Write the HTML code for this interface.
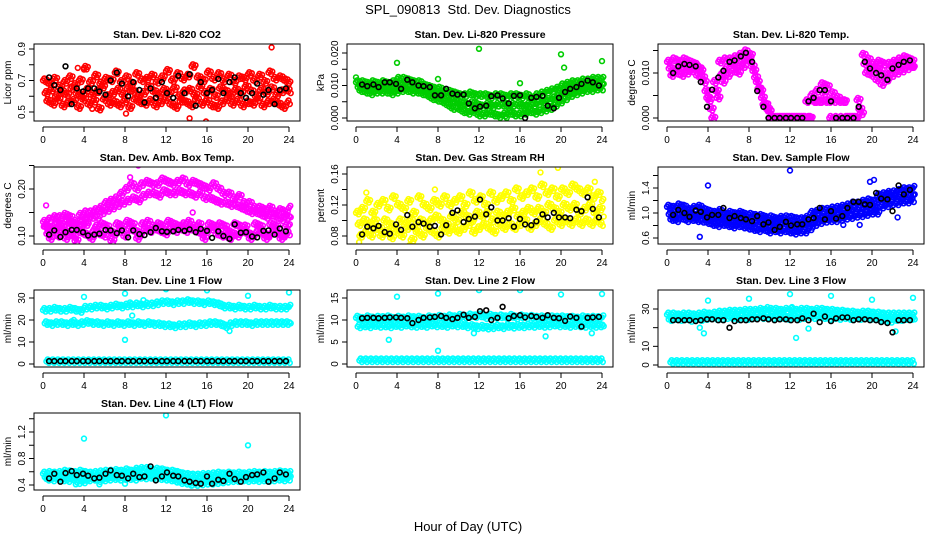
<!DOCTYPE html>
<html><head><meta charset="utf-8"><title>SPL_090813 Std. Dev. Diagnostics</title>
<style>
html,body{margin:0;padding:0;background:#fff;}
svg{display:block;font-family:"Liberation Sans",Arial,sans-serif;}
</style></head>
<body>
<svg id="chart" width="936" height="540" viewBox="0 0 936 540" xmlns="http://www.w3.org/2000/svg">
<rect width="936" height="540" fill="#fff"/>
<text x="468" y="14" text-anchor="middle" font-size="13">SPL_090813&#160; Std. Dev. Diagnostics</text>
<text x="468" y="531" text-anchor="middle" font-size="13">Hour of Day (UTC)</text>
</svg>
<script>
// shared x data
const gridHours = [0,0.5,1,1.5,2,2.5,3,3.5,4,4.5,5,5.5,6,6.5,7,7.5,8,8.5,9,9.5,10,10.5,11,11.5,12,12.5,13,13.5,14,14.5,15,15.5,16,16.5,17,17.5,18,18.5,19,19.5,20,20.5,21,21.5,22,22.5,23,23.5,24];
const blackHours = [0.6,1.1,1.7,2.2,2.8,3.3,3.9,4.4,5.0,5.5,6.1,6.6,7.2,7.7,8.3,8.8,9.4,9.9,10.5,11.0,11.6,12.1,12.7,13.2,13.8,14.3,14.9,15.4,16.0,16.5,17.1,17.6,18.2,18.7,19.3,19.8,20.4,20.9,21.5,22.0,22.6,23.1,23.7];
const xTicks = [0,4,8,12,16,20,24];

// P1 CO2
const co2A = [0.70,0.68,0.71,0.66,0.69,0.72,0.67,0.70,0.78,0.69,0.73,0.68,0.71,0.70,0.75,0.69,0.72,0.68,0.74,0.70,0.71,0.73,0.69,0.72,0.76,0.70,0.74,0.71,0.73,0.79,0.72,0.70,0.75,0.71,0.74,0.70,0.73,0.69,0.72,0.71,0.74,0.70,0.73,0.69,0.75,0.71,0.72,0.70,0.68];
const co2B = [0.62,0.64,0.60,0.63,0.61,0.65,0.62,0.60,0.64,0.61,0.63,0.66,0.60,0.62,0.64,0.61,0.65,0.63,0.60,0.62,0.66,0.63,0.61,0.64,0.62,0.65,0.60,0.63,0.64,0.61,0.66,0.62,0.64,0.60,0.65,0.63,0.61,0.64,0.62,0.66,0.63,0.60,0.64,0.62,0.65,0.61,0.63,0.64,0.62];
const co2C = [0.57,0.55,0.58,0.54,0.56,0.57,0.53,0.58,0.55,0.57,0.52,0.58,0.55,0.56,0.54,0.57,0.53,0.58,0.56,0.55,0.57,0.54,0.56,0.58,0.55,0.53,0.57,0.56,0.54,0.58,0.55,0.57,0.54,0.53,0.56,0.58,0.55,0.57,0.54,0.56,0.55,0.58,0.54,0.56,0.57,0.55,0.53,0.56,0.57];
const co2OutH = [22.3,8.1,14.3,15.9,4.8,3.4,4.0];
const co2OutV = [0.91,0.49,0.46,0.44,0.52,0.78,0.77];
const co2Black = [0.72,0.67,0.64,0.79,0.55,0.65,0.63,0.65,0.65,0.63,0.61,0.70,0.75,0.68,0.60,0.69,0.64,0.56,0.65,0.59,0.69,0.62,0.59,0.73,0.62,0.74,0.54,0.69,0.62,0.64,0.71,0.62,0.69,0.72,0.62,0.59,0.62,0.68,0.61,0.64,0.55,0.64,0.65];

// P2 Pressure
const presA = [0.011,0.011,0.0105,0.011,0.0105,0.011,0.0105,0.011,0.012,0.012,0.0115,0.011,0.011,0.010,0.0095,0.009,0.009,0.008,0.008,0.0075,0.007,0.007,0.0075,0.007,0.007,0.007,0.0065,0.007,0.007,0.0065,0.007,0.007,0.0065,0.007,0.006,0.007,0.0075,0.008,0.0085,0.009,0.010,0.0105,0.011,0.011,0.0115,0.0115,0.012,0.012,0.012];
const presB = [0.0095,0.0095,0.009,0.0095,0.009,0.0095,0.009,0.0095,0.010,0.0095,0.0095,0.009,0.009,0.0085,0.008,0.0075,0.007,0.006,0.0055,0.005,0.0045,0.004,0.0045,0.004,0.0035,0.004,0.0035,0.004,0.004,0.0035,0.004,0.004,0.0035,0.004,0.004,0.0045,0.005,0.0055,0.006,0.007,0.008,0.0085,0.009,0.0095,0.0095,0.010,0.010,0.010,0.0105];
const presC = [0.0085,0.008,0.0075,0.008,0.008,0.008,0.0075,0.008,0.0085,0.0085,0.008,0.008,0.0075,0.007,0.006,0.0055,0.005,0.004,0.003,0.003,0.002,0.0015,0.002,0.001,0.001,0.0015,0.001,0.0005,0.001,0.0015,0.001,0.001,0.0015,0.002,0.0015,0.002,0.0025,0.003,0.004,0.005,0.006,0.007,0.0075,0.008,0.0085,0.0085,0.009,0.009,0.009];
const presOutH = [0,4,8,12,16,20,20.3,24,14.7];
const presOutV = [0.0125,0.017,0.012,0.0213,0.0107,0.0196,0.0155,0.0175,0.0];
const presBlack = [0.0103,0.0098,0.0103,0.0095,0.011,0.011,0.0105,0.0090,0.0118,0.0110,0.0100,0.0098,0.0095,0.0070,0.0070,0.0090,0.0075,0.0072,0.0072,0.0045,0.0030,0.0035,0.0038,0.0067,0.0070,0.0060,0.0045,0.0068,0.0070,0.0000,0.0062,0.0065,0.0068,0.0038,0.0030,0.0062,0.0080,0.0090,0.0095,0.0105,0.0115,0.0110,0.0100];

// P3 Li-820 Temp
const tempA = [0.0125,0.013,0.0125,0.013,0.0125,0.012,0.011,0.008,0.004,0.008,0.0125,0.013,0.013,0.0135,0.014,0.0148,0.014,0.009,0.006,0.003,0,0,0,0,0,0,0,0.0037,0.005,0.006,0.0075,0.007,0.0055,0.0045,0.0037,0,0,0.004,0.014,0.013,0.012,0.0125,0.012,0.012,0.0125,0.013,0.0135,0.013,0.0125];
const tempB = [0.011,0.0105,0.0115,0.011,0.011,0.0115,0.0105,0.006,0.002,0.006,0.0095,0.011,0.012,0.0115,0.0125,0.0135,0.0115,0.008,0.0045,0.002,0,0,0,0,0,0,0,0,0.0037,0.0037,0.0055,0.0037,0.0037,0.0037,0.0037,0,0,0.002,0.012,0.011,0.011,0.0105,0.0095,0.011,0.0115,0.0115,0.012,0.0115,0.0115];
const tempC = [0.0095,0.010,0.0095,0.010,0.0105,0.0095,0.009,0.0045,0.0,0.0045,0.008,0.0095,0.0105,0.010,0.0115,0.013,0.0105,0.0065,0.003,0.0015,0,0,0,0,0,0,0,0,0.0037,0.0037,0.0037,0,0,0,0,0,0,0.001,0.010,0.0095,0.0085,0.0075,0.0085,0.0095,0.010,0.0105,0.011,0.0115,0.011];
const tempOutH = [];
const tempOutV = [];
const tempBlack = [0.010,0.0115,0.012,0.0118,0.0115,0.008,0.0025,0.0063,0.0090,0.0105,0.0125,0.0128,0.0137,0.0145,0.0125,0.0060,0.0025,0,0,0,0,0,0,0,0.0037,0.0045,0.0062,0.0062,0.0037,0,0,0,0,0.0025,0.0125,0.011,0.010,0.0095,0.0085,0.011,0.0118,0.0125,0.0128];

// P4 Amb Box Temp
const ambA = [0.13,0.135,0.14,0.14,0.145,0.14,0.13,0.145,0.15,0.15,0.155,0.16,0.17,0.175,0.18,0.19,0.20,0.21,0.20,0.21,0.215,0.21,0.21,0.22,0.215,0.21,0.215,0.22,0.21,0.215,0.21,0.205,0.20,0.21,0.20,0.19,0.19,0.18,0.185,0.17,0.17,0.16,0.16,0.155,0.16,0.15,0.155,0.15,0.16];
const ambB = [0.12,0.115,0.125,0.12,0.13,0.125,0.12,0.13,0.135,0.14,0.14,0.15,0.155,0.16,0.165,0.17,0.175,0.18,0.175,0.185,0.19,0.19,0.185,0.195,0.19,0.19,0.195,0.19,0.19,0.185,0.19,0.18,0.18,0.175,0.17,0.17,0.165,0.165,0.16,0.155,0.15,0.15,0.145,0.14,0.145,0.14,0.135,0.14,0.14];
const ambC = [0.105,0.11,0.10,0.11,0.105,0.10,0.11,0.105,0.10,0.11,0.105,0.10,0.11,0.105,0.11,0.10,0.115,0.11,0.105,0.115,0.11,0.115,0.11,0.105,0.115,0.11,0.115,0.11,0.115,0.11,0.105,0.11,0.115,0.105,0.10,0.11,0.105,0.10,0.11,0.105,0.10,0.11,0.105,0.10,0.11,0.105,0.10,0.105,0.11];
const ambD = [0.12,0.095,0.115,0.125,0.095,0.12,0.09,0.12,0.125,0.095,0.12,0.125,0.12,0.09,0.125,0.12,0.13,0.125,0.095,0.125,0.13,0.12,0.125,0.12,0.13,0.125,0.12,0.125,0.13,0.12,0.125,0.095,0.125,0.12,0.125,0.12,0.095,0.125,0.12,0.12,0.095,0.125,0.12,0.095,0.125,0.12,0.095,0.12,0.125];
const ambOutH = [0.3,9.3,8.5,14.6];
const ambOutV = [0.165,0.25,0.225,0.15];
const ambBlack = [0.103,0.112,0.098,0.108,0.113,0.113,0.108,0.101,0.103,0.105,0.113,0.112,0.106,0.112,0.097,0.112,0.104,0.102,0.108,0.117,0.110,0.109,0.110,0.113,0.111,0.114,0.108,0.115,0.111,0.096,0.110,0.100,0.094,0.125,0.107,0.108,0.099,0.097,0.111,0.112,0.103,0.116,0.110];

// P5 Gas Stream RH
const rhA = [0.11,0.115,0.125,0.11,0.12,0.125,0.115,0.13,0.12,0.115,0.125,0.11,0.13,0.12,0.115,0.125,0.12,0.13,0.12,0.125,0.13,0.12,0.135,0.125,0.13,0.12,0.135,0.125,0.13,0.135,0.125,0.14,0.13,0.135,0.14,0.13,0.145,0.135,0.14,0.13,0.14,0.135,0.145,0.14,0.135,0.14,0.13,0.135,0.125];
const rhB = [0.095,0.10,0.095,0.10,0.09,0.10,0.095,0.09,0.10,0.095,0.10,0.09,0.10,0.095,0.10,0.105,0.10,0.095,0.105,0.10,0.11,0.105,0.10,0.11,0.105,0.11,0.10,0.11,0.105,0.11,0.115,0.105,0.11,0.115,0.11,0.115,0.11,0.12,0.115,0.11,0.12,0.115,0.12,0.11,0.115,0.12,0.11,0.115,0.105];
const rhC = [0.08,0.085,0.08,0.09,0.08,0.085,0.078,0.085,0.08,0.09,0.075,0.085,0.08,0.09,0.085,0.08,0.09,0.085,0.09,0.085,0.09,0.095,0.085,0.09,0.095,0.09,0.085,0.095,0.09,0.095,0.09,0.095,0.10,0.09,0.095,0.10,0.095,0.09,0.10,0.095,0.10,0.095,0.10,0.095,0.10,0.095,0.10,0.095,0.09];
const rhOutH = [0.3,5.2,18,19.7,23.3,1,7.7];
const rhOutV = [0.072,0.068,0.162,0.168,0.15,0.136,0.14];
const rhBlack = [0.082,0.092,0.090,0.093,0.085,0.083,0.095,0.088,0.107,0.092,0.098,0.096,0.092,0.093,0.082,0.094,0.110,0.113,0.098,0.102,0.105,0.127,0.108,0.117,0.100,0.100,0.103,0.092,0.102,0.095,0.094,0.099,0.108,0.104,0.110,0.104,0.104,0.103,0.114,0.112,0.130,0.115,0.104];

// P6 Sample Flow
const sfA = [1.1,1.08,1.12,1.1,1.05,1.08,1.1,1.05,1.02,1.0,1.03,0.98,1.0,0.98,1.0,0.97,0.97,0.95,0.95,0.92,0.93,0.90,0.92,0.93,0.92,0.90,0.90,0.92,1.0,1.02,1.05,1.05,1.07,1.08,1.10,1.12,1.15,1.15,1.18,1.20,1.18,1.28,1.30,1.32,1.33,1.35,1.38,1.38,1.40];
const sfB = [0.98,0.96,1.0,0.97,0.98,0.95,0.97,0.94,0.92,0.90,0.92,0.88,0.90,0.88,0.89,0.86,0.85,0.84,0.85,0.82,0.83,0.80,0.81,0.82,0.80,0.78,0.80,0.82,0.90,0.92,0.95,0.96,0.98,0.97,1.00,1.02,1.05,1.05,1.08,1.10,1.08,1.20,1.22,1.24,1.25,1.26,1.28,1.27,1.30];
const sfC = [0.90,0.88,0.92,0.88,0.90,0.88,0.87,0.85,0.82,0.80,0.82,0.80,0.78,0.80,0.78,0.76,0.74,0.72,0.74,0.70,0.72,0.70,0.72,0.70,0.68,0.70,0.70,0.75,0.82,0.85,0.87,0.88,0.88,0.90,0.92,0.93,0.95,0.96,0.98,1.00,1.00,1.10,1.12,1.15,1.15,1.18,1.18,1.20,1.22];
const sfOutH = [3.2,4,12,19.8,20.2,22.5,18.8,17.2];
const sfOutV = [0.62,1.44,1.68,1.5,1.53,0.93,0.81,0.81];
const sfBlack = [0.97,1.05,1.00,0.94,1.04,1.02,0.93,0.97,0.97,1.08,0.92,0.95,0.92,0.90,0.87,0.95,0.82,0.85,0.73,0.78,0.86,0.80,0.82,0.82,0.90,0.92,1.08,0.90,1.03,0.91,0.95,1.08,1.18,1.18,1.14,1.13,1.32,1.23,1.22,1.03,1.44,1.30,1.37];

// P7 Line 1 Flow
const l1A = [24.5,24.5,25,24.5,24.5,25,24.5,24,25.5,25.5,26,26,25.5,26,26.5,26,26.5,26.5,27,26.5,27,27,27.5,28,28,27.5,28,28,28.5,28,28,27.5,28,27.5,27,26,26,25.5,26,25.5,25.5,26,25.5,25.5,26,25.5,25.5,25.5,26];
const l1B = [18.5,18,18.5,18.5,18,18.5,18,18.5,19,18.5,18.5,18,18.5,18,18.5,18,18.5,18,18.5,18,18.5,18,18,17.5,17.5,17,17.5,17.5,18,17.5,18,18,18.5,18.5,18,17,18,18.5,18.5,18.5,18,18.5,18.5,18.5,18.5,18.5,18.5,18.5,18.5];
const l1C = [1.2,1.2,1.2,1.2,1.2,1.2,1.2,1.2,1.2,1.2,1.2,1.2,1.2,1.2,1.2,1.2,1.2,1.2,1.2,1.2,1.2,1.2,1.2,1.2,1.2,1.2,1.2,1.2,1.2,1.2,1.2,1.2,1.2,1.2,1.2,1.2,1.2,1.2,1.2,1.2,1.2,1.2,1.2,1.2,1.2,1.2,1.2,1.2,1.2];
const l1OutH = [4,8,8,12,16,20,24,3,8.5,8.7,9.8,18.2];
const l1OutV = [30.5,32,11,34,33.5,31,32.5,20,28,22,29,15];
const l1Black = [1.3,1.3,1.3,1.3,1.3,1.3,1.3,1.3,1.3,1.3,1.3,1.3,1.3,1.3,1.3,1.3,1.3,1.3,1.3,1.3,1.3,1.3,1.3,1.3,1.3,1.3,1.3,1.3,1.3,1.3,1.3,1.3,1.3,1.3,1.3,1.3,1.3,1.3,1.3,1.3,1.3,1.3,1.3];

// P8 Line 2 Flow
const l2A = [10.5,10.2,10.6,10.3,10.5,10.4,10.6,10.2,10.5,10.3,10.6,10.4,10.5,10.2,10.6,10.4,10.7,10.5,10.8,10.6,10.9,10.7,11.0,10.8,11.0,10.6,10.9,10.7,10.8,10.6,10.9,10.5,10.8,10.6,10.7,10.5,10.6,10.4,10.6,10.5,10.6,10.4,10.5,10.3,10.6,10.4,10.5,10.4,10.6];
const l2B = [8.5,8.7,8.5,8.8,8.6,8.7,8.5,8.8,8.6,8.9,8.7,8.6,8.8,8.6,8.9,8.7,8.8,8.6,8.9,8.7,8.8,8.5,8.6,8.3,8.4,8.2,8.3,8.5,8.3,8.6,8.4,8.6,8.5,8.7,8.6,8.8,8.6,8.7,8.9,8.7,8.8,8.6,8.8,8.7,8.6,8.8,8.6,8.7,8.6];
const l2C = [0.8,0.8,0.8,0.8,0.8,0.8,0.8,0.8,0.8,0.8,0.8,0.8,0.8,0.8,0.8,0.8,0.8,0.8,0.8,0.8,0.8,0.8,0.8,0.8,0.8,0.8,0.8,0.8,0.8,0.8,0.8,0.8,0.8,0.8,0.8,0.8,0.8,0.8,0.8,0.8,0.8,0.8,0.8,0.8,0.8,0.8,0.8,0.8,0.8];
const l2OutH = [4,8,12,16,20,24,3.2,8,11.5,18.5,23];
const l2OutV = [15.3,16,16.8,16.8,15.8,15.9,5.5,3,7,6.3,7];
const l2Black = [10.4,10.5,10.5,10.4,10.5,10.6,10.6,10.5,10.4,9.3,10.0,10.5,10.6,10.7,10.9,10.5,10.2,10.5,11.2,10.5,10.7,12.0,12.2,10.0,10.5,13.0,10.4,10.9,11.1,10.6,10.9,10.7,10.5,11.1,10.5,10.4,9.8,10.8,10.5,8.5,10.5,10.6,10.7];

// P9 Line 3 Flow
const l3A = [27,27,26.5,27,27,26.5,27,27.5,27,27.5,28,28,28.5,28.5,28.5,29,29,29,29.5,29,29.5,29.5,29,29.5,29.5,29,29.5,29.5,29,29.5,29.5,29,29,28.5,28.5,28,28,27.5,28,28,27.5,27.5,27,27,27,27,27,27,27];
const l3B = [24.5,25,24.5,25,24,25,24.5,25,25.5,25,25,25.5,25.5,25,25.5,25,25.5,26,25.5,26,25.5,26,25.5,25,26,25,25.5,26,25.5,26,25.5,25,25.5,25,25.5,25,25.5,25,25.5,25,25,24.5,24,23.5,24.5,24.5,25,25,24.5];
const l3C = [1.5,1.5,1.5,1.5,1.5,1.5,1.5,1.5,1.5,1.5,1.5,1.5,1.5,1.5,1.5,1.5,1.5,1.5,1.5,1.5,1.5,1.5,1.5,1.5,1.5,1.5,1.5,1.5,1.5,1.5,1.5,1.5,1.5,1.5,1.5,1.5,1.5,1.5,1.5,1.5,1.5,1.5,1.5,1.5,1.5,1.5,1.5,1.5,1.5];
const l3OutH = [4,8,12,16,20,24,3.2,3.6,12.6,13.8,22.3,8.4,9.8,12.2];
const l3OutV = [34.5,35.5,38,37,35,36,20,17,14.5,19.5,18,29,31,31];
const l3Black = [24,24,24,24,23.5,24,24.5,24.5,24,24,20,23.5,24,24,24.5,24.5,25,24.5,24,24.5,24.5,24,24,25,24,27.5,23,26,23.5,25,25.5,25.5,24,24.5,24.5,24,24,23,22.5,17.5,24,24,24];

// P10 Line 4 (LT) Flow
const l4A = [0.57,0.58,0.57,0.58,0.6,0.59,0.58,0.6,0.58,0.57,0.58,0.59,0.6,0.6,0.61,0.6,0.62,0.6,0.63,0.64,0.64,0.62,0.63,0.62,0.6,0.6,0.58,0.56,0.55,0.54,0.54,0.55,0.55,0.56,0.57,0.56,0.57,0.56,0.57,0.56,0.57,0.58,0.57,0.58,0.57,0.58,0.59,0.58,0.58];
const l4B = [0.52,0.53,0.52,0.51,0.53,0.52,0.5,0.49,0.5,0.51,0.52,0.51,0.52,0.53,0.52,0.53,0.54,0.53,0.55,0.55,0.56,0.55,0.54,0.53,0.52,0.5,0.48,0.47,0.46,0.45,0.46,0.46,0.47,0.48,0.49,0.5,0.5,0.51,0.5,0.51,0.52,0.51,0.52,0.51,0.52,0.53,0.52,0.53,0.53];
const l4C = [0.49,0.48,0.5,0.48,0.47,0.49,0.44,0.45,0.48,0.49,0.47,0.48,0.49,0.5,0.49,0.5,0.5,0.49,0.52,0.51,0.52,0.5,0.5,0.49,0.48,0.46,0.44,0.43,0.42,0.41,0.42,0.43,0.43,0.44,0.45,0.46,0.47,0.47,0.48,0.47,0.48,0.47,0.48,0.47,0.48,0.49,0.48,0.49,0.49];
const l4OutH = [4,12,20,3.2,5.5,8,14.5];
const l4OutV = [1.1,1.45,1.0,0.41,0.41,0.42,0.39];
const l4Black = [0.50,0.57,0.45,0.58,0.61,0.55,0.57,0.54,0.50,0.51,0.57,0.62,0.55,0.54,0.50,0.57,0.52,0.53,0.68,0.47,0.53,0.59,0.54,0.53,0.47,0.45,0.43,0.42,0.53,0.42,0.48,0.46,0.57,0.49,0.45,0.52,0.55,0.56,0.59,0.45,0.50,0.59,0.56];

// y tick values and labels per panel
const co2Ticks = [0.5,0.6,0.7,0.8,0.9], co2Labels = ["0.5","","0.7","","0.9"];
const presTicks = [0,0.005,0.01,0.015,0.02], presLabels = ["0.000","","0.010","","0.020"];
const tempTicks = [0,0.005,0.01,0.015], tempLabels = ["0.000","","0.010",""];
const ambTicks = [0.10,0.15,0.20,0.25], ambLabels = ["0.10","","0.20",""];
const rhTicks = [0.08,0.10,0.12,0.14,0.16], rhLabels = ["0.08","","0.12","","0.16"];
const sfTicks = [0.6,0.8,1.0,1.2,1.4,1.6], sfLabels = ["0.6","","1.0","","1.4",""];
const l1Ticks = [0,10,20,30], l1Labels = ["0","10","20","30"];
const l2Ticks = [0,5,10,15], l2Labels = ["0","5","10","15"];
const l3Ticks = [0,10,20,30], l3Labels = ["0","10","","30"];
const l4Ticks = [0.4,0.6,0.8,1.0,1.2,1.4], l4Labels = ["0.4","","0.8","","1.2",""];

const panels = [
 {key:"co2",title:"Stan. Dev. Li-820 CO2",ylab:"Licor ppm",col:0,row:0,color:"#ff0000",series:[co2A,co2B,co2C],outH:co2OutH,outV:co2OutV,black:co2Black,ticks:co2Ticks,labels:co2Labels,cal:[0.5,68,0.9,5]},
 {key:"pressure",title:"Stan. Dev. Li-820 Pressure",ylab:"kPa",col:1,row:0,color:"#00cd00",series:[presA,presB,presC],outH:presOutH,outV:presOutV,black:presBlack,ticks:presTicks,labels:presLabels,cal:[0,74,0.02,9]},
 {key:"li820-temp",title:"Stan. Dev. Li-820 Temp.",ylab:"degrees C",col:2,row:0,color:"#ff00ff",series:[tempA,tempB,tempC],outH:tempOutH,outV:tempOutV,black:tempBlack,ticks:tempTicks,labels:tempLabels,cal:[0,74,0.01,29]},
 {key:"amb-box-temp",title:"Stan. Dev. Amb. Box Temp.",ylab:"degrees C",col:0,row:1,color:"#ff00ff",series:[ambA,ambB,ambC,ambD],outH:ambOutH,outV:ambOutV,black:ambBlack,ticks:ambTicks,labels:ambLabels,cal:[0.10,69,0.20,22]},
 {key:"gas-stream-rh",title:"Stan. Dev. Gas Stream RH",ylab:"percent",col:1,row:1,color:"#ffff00",series:[rhA,rhB,rhC],outH:rhOutH,outV:rhOutV,black:rhBlack,ticks:rhTicks,labels:rhLabels,cal:[0.08,69,0.16,7]},
 {key:"sample-flow",title:"Stan. Dev. Sample Flow",ylab:"ml/min",col:2,row:1,color:"#0000ff",series:[sfA,sfB,sfC],outH:sfOutH,outV:sfOutV,black:sfBlack,ticks:sfTicks,labels:sfLabels,cal:[0.6,71,1.4,21]},
 {key:"line1-flow",title:"Stan. Dev. Line 1 Flow",ylab:"ml/min",col:0,row:2,color:"#00ffff",series:[l1A,l1B,l1C],outH:l1OutH,outV:l1OutV,black:l1Black,ticks:l1Ticks,labels:l1Labels,cal:[0,74,30,8]},
 {key:"line2-flow",title:"Stan. Dev. Line 2 Flow",ylab:"ml/min",col:1,row:2,color:"#00ffff",series:[l2A,l2B,l2C],outH:l2OutH,outV:l2OutV,black:l2Black,ticks:l2Ticks,labels:l2Labels,cal:[0,74,15,8]},
 {key:"line3-flow",title:"Stan. Dev. Line 3 Flow",ylab:"ml/min",col:2,row:2,color:"#00ffff",series:[l3A,l3B,l3C],outH:l3OutH,outV:l3OutV,black:l3Black,ticks:l3Ticks,labels:l3Labels,cal:[0,75,30,19]},
 {key:"line4-flow",title:"Stan. Dev. Line 4 (LT) Flow",ylab:"ml/min",col:0,row:3,color:"#00ffff",series:[l4A,l4B,l4C],outH:l4OutH,outV:l4OutV,black:l4Black,ticks:l4Ticks,labels:l4Labels,cal:[0.4,72,1.2,19]}
];

const NS = "http://www.w3.org/2000/svg";
const svg = document.getElementById("chart");
const colLeft = [34,347,658];
const boxW = 266, boxH = 77;
const seriesShift = [0,0.17,0.33,0.08];
// sub-sample spread (hour offset, pixel dy) used to render the dense 1-min clouds
const spreadH = [0,0.125,0.25,0.375];
const spreadDy = [0,-2,1.5,-1];

function mk(tag, attrs, parent){
  const e = document.createElementNS(NS, tag);
  for (const k in attrs) e.setAttribute(k, attrs[k]);
  parent.appendChild(e);
  return e;
}

panels.forEach(p => {
  const L = colLeft[p.col], T = 44 + 123*p.row, B = T + boxH;
  const xs = h => L + 9 + h * (246/24);
  const [v1,y1,v2,y2] = p.cal;
  const ys = v => T + y1 + (v - v1) * (y2 - y1) / (v2 - v1);

  const g = mk("g", {}, svg);
  
  

  const title = mk("text", {x: L + boxW/2, y: T - 6, "text-anchor":"middle", "font-size":"10.5", "font-weight":"bold"}, g);
  title.textContent = p.title;
  
  

  const cx = L - 23, cy = (T + B)/2;
  const yl = mk("text", {x: cx, y: cy, "text-anchor":"middle", "font-size":"10", transform:`rotate(-90 ${cx} ${cy})`}, g);
  yl.textContent = p.ylab;
  
  

  const clip = mk("clipPath", {id: "clip-" + p.key}, g);
  mk("rect", {x: L, y: T, width: boxW, height: boxH}, clip);
  const pts = mk("g", {"clip-path": `url(#clip-${p.key})`, fill: "none"}, g);
  
  

  p.series.forEach((arr, si) => {
    arr.forEach((v, i) => {
      spreadH.forEach((dh, k) => {
        const h = gridHours[i] + seriesShift[si] + dh;
        if (h > 24.2) return;
        const c = mk("circle", {cx: xs(h).toFixed(1), cy: (ys(v) + spreadDy[k]).toFixed(1), r: 2.4, stroke: p.color, "stroke-width": 1.6}, pts);
        
        
      });
    });
  });
  p.outV.forEach((v, i) => {
    const c = mk("circle", {cx: xs(p.outH[i]).toFixed(1), cy: ys(v).toFixed(1), r: 2.4, stroke: p.color, "stroke-width": 1.6}, pts);
    
    
  });
  p.black.forEach((v, i) => {
    const c = mk("circle", {cx: xs(blackHours[i]).toFixed(1), cy: ys(v).toFixed(1), r: 2.4, stroke: "#000", "stroke-width": 1.6}, pts);
    
    
  });

  const box = mk("rect", {x: L, y: T, width: boxW, height: boxH, fill: "none", stroke: "#000", "stroke-width": 1}, g);
  
  

  // x axis
  const ax = B + 6;
  const xa = mk("line", {x1: xs(0), x2: xs(24), y1: ax, y2: ax, stroke: "#000"}, g);
  
  
  xTicks.forEach(t => {
    mk("line", {x1: xs(t), x2: xs(t), y1: ax, y2: ax + 5, stroke: "#000"}, g);
    const tl = mk("text", {x: xs(t), y: ax + 16, "text-anchor":"middle", "font-size":"10"}, g);
    tl.textContent = t;
    
    
  });

  // y axis
  const t0 = p.ticks[0], tn = p.ticks[p.ticks.length-1];
  const ya = mk("line", {x1: L, x2: L, y1: ys(t0), y2: ys(tn), stroke: "#000"}, g);
  
  
  p.ticks.forEach((t, i) => {
    mk("line", {x1: L - 5, x2: L, y1: ys(t), y2: ys(t), stroke: "#000"}, g);
    if (p.labels[i]) {
      const lx = L - 9, ly = ys(t);
      const tl = mk("text", {x: lx, y: ly, "text-anchor":"middle", "font-size":"10", transform:`rotate(-90 ${lx} ${ly})`}, g);
      tl.textContent = p.labels[i];
      
      
    }
  });
});
</script>
</body></html>
